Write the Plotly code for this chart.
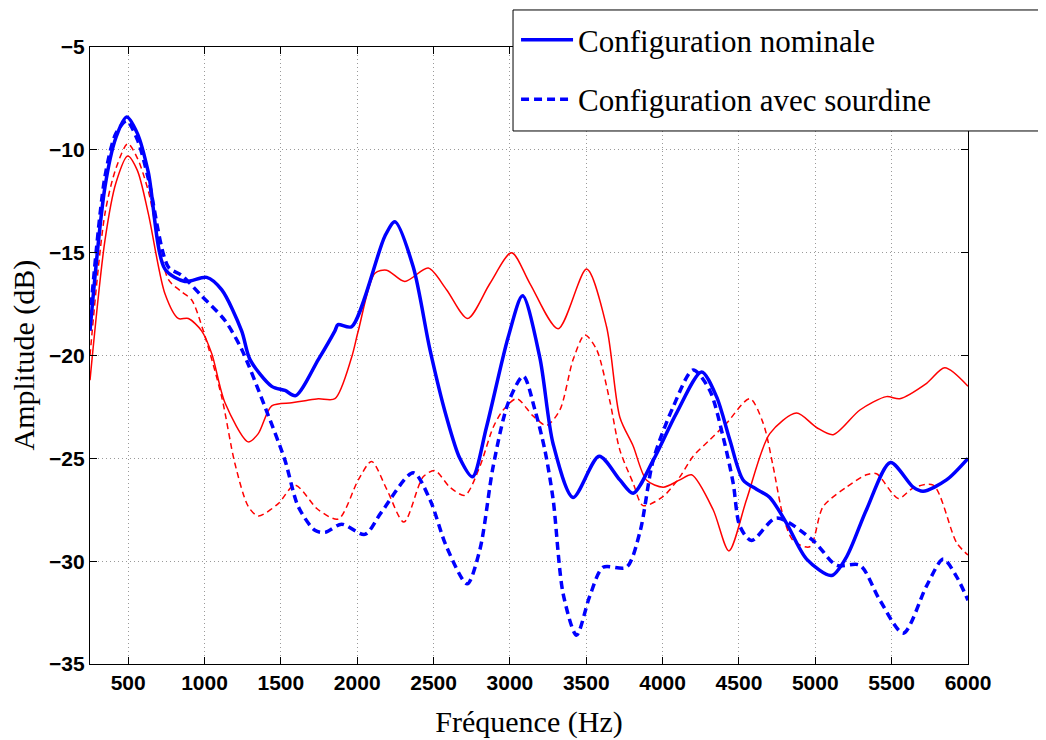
import plotly.graph_objects as go

# Blue solid: Configuration nominale
f_nom = [250, 348, 420, 490, 560, 632, 741, 872, 1014, 1112, 1243, 1298, 1440, 1527, 1597, 1745, 1854, 1874, 1963, 2181, 2247, 2367, 2476, 2585, 2672, 2755, 2846, 2989, 3083, 3196, 3283, 3414, 3584, 3720, 3807, 3938, 4091, 4255, 4353, 4440, 4527, 4615, 4702, 4811, 4943, 5106, 5204, 5335, 5492, 5641, 5706, 5859, 6000]
a_nom = [-18.8, -11.8, -9.4, -8.4, -9.2, -11.1, -15.8, -16.4, -16.2, -16.8, -18.8, -20.2, -21.5, -21.7, -21.95, -20.2, -18.8, -18.5, -18.6, -14.2, -13.5, -15.7, -19.7, -23.0, -25.0, -25.9, -23.5, -19.1, -17.1, -20.1, -24.3, -26.9, -24.9, -26.05, -26.7, -25.1, -22.8, -20.8, -22.0, -24.1, -26.05, -26.5, -26.9, -28.15, -29.9, -30.7, -29.8, -27.5, -25.2, -26.4, -26.6, -26.05, -25.0]

# Blue dashed: Configuration avec sourdine
f_sour = [250, 348, 420, 490, 560, 632, 763, 850, 981, 1134, 1243, 1396, 1527, 1614, 1723, 1789, 1898, 2050, 2160, 2367, 2476, 2585, 2720, 2803, 2890, 2989, 3088, 3164, 3229, 3283, 3349, 3436, 3523, 3610, 3763, 3851, 3938, 4069, 4200, 4309, 4396, 4462, 4506, 4582, 4746, 4986, 5139, 5292, 5423, 5576, 5729, 5838, 5925, 6000]
a_sour = [-18.2, -11.3, -9.2, -8.6, -9.5, -11.4, -15.7, -16.1, -17.1, -18.3, -19.7, -22.5, -25.1, -27.35, -28.5, -28.6, -28.2, -28.7, -27.6, -25.7, -27.0, -29.3, -31.1, -29.45, -25.4, -22.3, -21.0, -22.65, -24.6, -27.0, -31.6, -33.6, -31.7, -30.3, -30.3, -28.6, -25.1, -22.5, -20.7, -21.7, -23.95, -26.2, -28.3, -29.0, -27.9, -29.0, -30.2, -30.2, -31.9, -33.5, -31.2, -29.9, -30.75, -31.9]

# Red solid (reference, nominal)
f_rn = [250, 348, 420, 497, 560, 632, 741, 828, 894, 981, 1047, 1134, 1287, 1352, 1440, 1571, 1658, 1745, 1854, 1963, 2007, 2116, 2193, 2312, 2465, 2585, 2723, 2869, 3011, 3131, 3316, 3502, 3633, 3720, 3807, 3894, 4004, 4113, 4190, 4331, 4434, 4550, 4702, 4877, 5008, 5117, 5292, 5466, 5553, 5729, 5848, 6000]
a_rn = [-21.2, -14.4, -11.6, -10.3, -11.0, -13.1, -17.0, -18.2, -18.2, -18.8, -19.9, -22.3, -24.2, -23.8, -22.45, -22.3, -22.2, -22.1, -22.1, -20.1, -18.8, -16.0, -15.85, -16.4, -15.75, -16.8, -18.2, -16.5, -15.0, -16.5, -18.7, -15.8, -18.6, -23.0, -24.4, -26.05, -26.4, -26.05, -25.8, -27.5, -29.5, -27.0, -23.8, -22.8, -23.5, -23.85, -22.65, -22.0, -22.1, -21.35, -20.6, -21.5]

# Red dashed (reference, sourdine)
f_rs = [250, 348, 420, 497, 560, 632, 763, 850, 916, 992, 1112, 1199, 1287, 1352, 1483, 1592, 1745, 1876, 2007, 2094, 2193, 2306, 2432, 2509, 2607, 2705, 2803, 2890, 2956, 3044, 3153, 3240, 3327, 3414, 3491, 3567, 3654, 3720, 3807, 3872, 4004, 4113, 4200, 4309, 4418, 4571, 4659, 4724, 4789, 4855, 4964, 5051, 5204, 5335, 5401, 5543, 5641, 5772, 5925, 6000]
a_rs = [-20.0, -13.1, -10.9, -9.7, -10.4, -12.0, -16.3, -16.9, -17.3, -18.8, -22.0, -25.25, -27.35, -27.8, -27.2, -26.3, -27.5, -27.95, -26.05, -25.15, -26.5, -28.1, -25.9, -25.6, -26.4, -26.8, -25.4, -23.5, -22.65, -22.1, -22.95, -23.4, -22.65, -20.2, -19.0, -19.7, -22.2, -24.6, -26.2, -27.3, -26.85, -25.9, -24.9, -24.1, -23.3, -22.1, -23.3, -25.4, -27.8, -29.0, -29.3, -27.35, -26.4, -25.8, -25.75, -26.95, -26.45, -26.3, -29.1, -29.7]

x_ticks = list(range(500, 6001, 500))
y_ticks = [-35, -30, -25, -20, -15, -10, -5]

fig = go.Figure()
fig.add_trace(go.Scatter(x=f_rn, y=a_rn, mode="lines", showlegend=False,
                         line=dict(color="#ff0000", width=1.5, shape="spline", smoothing=0.8)))
fig.add_trace(go.Scatter(x=f_rs, y=a_rs, mode="lines", showlegend=False,
                         line=dict(color="#ff0000", width=1.5, dash="6px,4px", shape="spline", smoothing=0.8)))
fig.add_trace(go.Scatter(x=f_nom, y=a_nom, mode="lines",
                         name="Configuration nominale",
                         legendgroup="a",
                         line=dict(color="#0000ff", width=3.5, shape="spline", smoothing=0.8)))
fig.add_trace(go.Scatter(x=f_sour, y=a_sour, mode="lines", name="Configuration avec sourdine",
                         legendgroup="b",
                         line=dict(color="#0000ff", width=3.5, dash="8px,5px", shape="spline", smoothing=0.8)))

axis_common = dict(showline=True, linecolor="black", linewidth=1.2, mirror="ticks",
                   ticks="inside", ticklen=7, tickcolor="black",
                   showgrid=True, gridcolor="#9a9a9a", griddash="1px,3px", gridwidth=1,
                   zeroline=False,
                   tickfont=dict(family="Liberation Sans", size=21, color="black", weight="bold"))

serif = dict(family="Liberation Serif", size=30, color="black")

fig.update_layout(
    width=1046, height=740,
    paper_bgcolor="white", plot_bgcolor="white",
    margin=dict(l=82, r=86, t=39, b=84, autoexpand=False),
    xaxis=dict(range=[250, 6000], tickvals=x_ticks,
               title=dict(text="Fréquence (Hz)", font=serif, standoff=17),
               **axis_common),
    yaxis=dict(range=[-35, -5], tickvals=y_ticks, **axis_common),
    legend=dict(xref="container", yref="container", x=0.4857, y=0.993,
                xanchor="left", yanchor="top",
                bgcolor="rgba(0,0,0,0)", borderwidth=0,
                font=dict(family="Liberation Serif", size=31, color="black"),
                itemwidth=52, tracegroupgap=16, traceorder="grouped"),
    showlegend=True,
    shapes=[dict(type="rect", xref="paper", yref="paper",
                 x0=0.4818, x1=1.2, y0=0.8639, y1=1.06,
                 fillcolor="white", line=dict(color="black", width=1), layer="above")],
    annotations=[dict(text="Amplitude (dB)", xref="paper", yref="paper",
                      x=(15 - 82) / 878, y=0.5, textangle=-90, showarrow=False,
                      xanchor="center", yanchor="middle", font=serif)],
)

fig.write_html("out.html")
